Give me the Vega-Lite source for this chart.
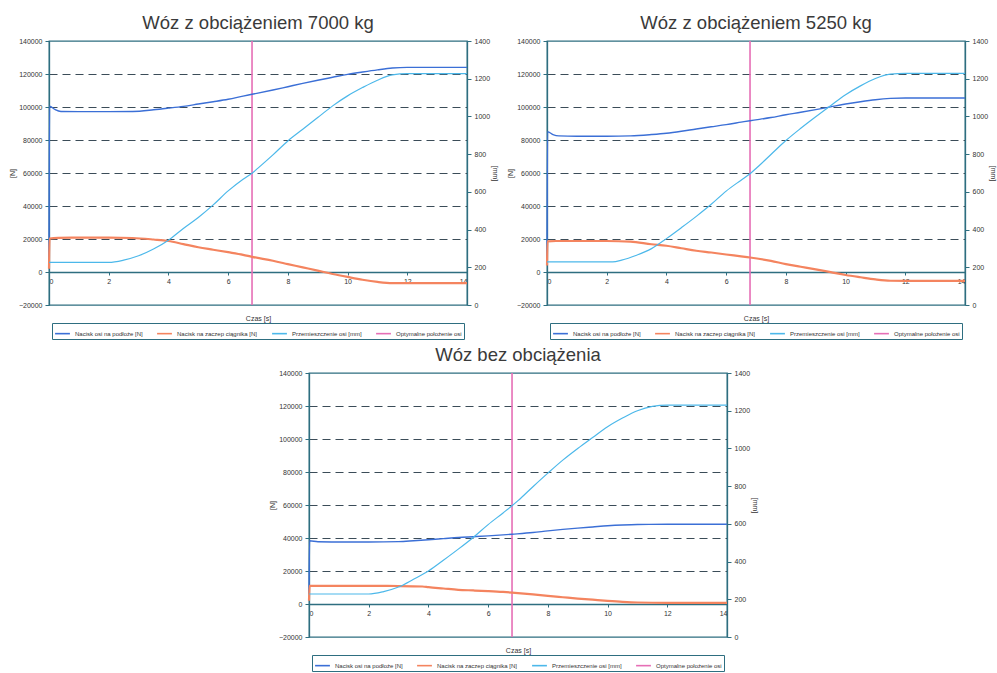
{
  "$schema": "https://vega.github.io/schema/vega-lite/v6.json",
  "padding": {"left": 7, "top": 12, "right": 2, "bottom": 0},
  "background": "white",
  "datasets": {
    "d": [
      {"p": "7000", "s": "Nacisk osi na podłoże [N]", "t": 0, "v": 6000},
      {"p": "7000", "s": "Nacisk osi na podłoże [N]", "t": 0.02, "v": 100500},
      {"p": "7000", "s": "Nacisk osi na podłoże [N]", "t": 0.2, "v": 98500},
      {"p": "7000", "s": "Nacisk osi na podłoże [N]", "t": 0.4, "v": 97300},
      {"p": "7000", "s": "Nacisk osi na podłoże [N]", "t": 1, "v": 97200},
      {"p": "7000", "s": "Nacisk osi na podłoże [N]", "t": 2, "v": 97200},
      {"p": "7000", "s": "Nacisk osi na podłoże [N]", "t": 2.8, "v": 97300},
      {"p": "7000", "s": "Nacisk osi na podłoże [N]", "t": 3.5, "v": 98300},
      {"p": "7000", "s": "Nacisk osi na podłoże [N]", "t": 4, "v": 99300},
      {"p": "7000", "s": "Nacisk osi na podłoże [N]", "t": 4.5, "v": 100400},
      {"p": "7000", "s": "Nacisk osi na podłoże [N]", "t": 5, "v": 101800},
      {"p": "7000", "s": "Nacisk osi na podłoże [N]", "t": 5.5, "v": 103200},
      {"p": "7000", "s": "Nacisk osi na podłoże [N]", "t": 6, "v": 104700},
      {"p": "7000", "s": "Nacisk osi na podłoże [N]", "t": 6.5, "v": 106600},
      {"p": "7000", "s": "Nacisk osi na podłoże [N]", "t": 6.8, "v": 107700},
      {"p": "7000", "s": "Nacisk osi na podłoże [N]", "t": 7.5, "v": 110300},
      {"p": "7000", "s": "Nacisk osi na podłoże [N]", "t": 8, "v": 112300},
      {"p": "7000", "s": "Nacisk osi na podłoże [N]", "t": 8.5, "v": 114300},
      {"p": "7000", "s": "Nacisk osi na podłoże [N]", "t": 9, "v": 116200},
      {"p": "7000", "s": "Nacisk osi na podłoże [N]", "t": 9.5, "v": 118000},
      {"p": "7000", "s": "Nacisk osi na podłoże [N]", "t": 10, "v": 119800},
      {"p": "7000", "s": "Nacisk osi na podłoże [N]", "t": 10.5, "v": 121200},
      {"p": "7000", "s": "Nacisk osi na podłoże [N]", "t": 11, "v": 122500},
      {"p": "7000", "s": "Nacisk osi na podłoże [N]", "t": 11.5, "v": 123600},
      {"p": "7000", "s": "Nacisk osi na podłoże [N]", "t": 12, "v": 124000},
      {"p": "7000", "s": "Nacisk osi na podłoże [N]", "t": 14, "v": 124000},
      {"p": "7000", "s": "Nacisk na zaczep ciągnika [N]", "t": 0, "v": 2000},
      {"p": "7000", "s": "Nacisk na zaczep ciągnika [N]", "t": 0.02, "v": 20300},
      {"p": "7000", "s": "Nacisk na zaczep ciągnika [N]", "t": 0.3, "v": 20700},
      {"p": "7000", "s": "Nacisk na zaczep ciągnika [N]", "t": 1, "v": 20800},
      {"p": "7000", "s": "Nacisk na zaczep ciągnika [N]", "t": 2, "v": 20800},
      {"p": "7000", "s": "Nacisk na zaczep ciągnika [N]", "t": 2.8, "v": 20600},
      {"p": "7000", "s": "Nacisk na zaczep ciągnika [N]", "t": 3.5, "v": 19700},
      {"p": "7000", "s": "Nacisk na zaczep ciągnika [N]", "t": 4, "v": 18800},
      {"p": "7000", "s": "Nacisk na zaczep ciągnika [N]", "t": 4.5, "v": 16900},
      {"p": "7000", "s": "Nacisk na zaczep ciągnika [N]", "t": 5, "v": 15000},
      {"p": "7000", "s": "Nacisk na zaczep ciągnika [N]", "t": 5.5, "v": 13500},
      {"p": "7000", "s": "Nacisk na zaczep ciągnika [N]", "t": 6, "v": 12000},
      {"p": "7000", "s": "Nacisk na zaczep ciągnika [N]", "t": 6.5, "v": 10400},
      {"p": "7000", "s": "Nacisk na zaczep ciągnika [N]", "t": 6.8, "v": 9200},
      {"p": "7000", "s": "Nacisk na zaczep ciągnika [N]", "t": 7.5, "v": 6800},
      {"p": "7000", "s": "Nacisk na zaczep ciągnika [N]", "t": 8, "v": 4800},
      {"p": "7000", "s": "Nacisk na zaczep ciągnika [N]", "t": 8.5, "v": 2800},
      {"p": "7000", "s": "Nacisk na zaczep ciągnika [N]", "t": 9, "v": 800},
      {"p": "7000", "s": "Nacisk na zaczep ciągnika [N]", "t": 9.5, "v": -1200},
      {"p": "7000", "s": "Nacisk na zaczep ciągnika [N]", "t": 10, "v": -3000},
      {"p": "7000", "s": "Nacisk na zaczep ciągnika [N]", "t": 10.5, "v": -4700},
      {"p": "7000", "s": "Nacisk na zaczep ciągnika [N]", "t": 11, "v": -6000},
      {"p": "7000", "s": "Nacisk na zaczep ciągnika [N]", "t": 11.5, "v": -6700},
      {"p": "7000", "s": "Nacisk na zaczep ciągnika [N]", "t": 12, "v": -6700},
      {"p": "7000", "s": "Nacisk na zaczep ciągnika [N]", "t": 14, "v": -6700},
      {"p": "7000", "s": "Przemieszczenie osi [mm]", "t": 0, "v": 226},
      {"p": "7000", "s": "Przemieszczenie osi [mm]", "t": 2, "v": 226},
      {"p": "7000", "s": "Przemieszczenie osi [mm]", "t": 2.5, "v": 238},
      {"p": "7000", "s": "Przemieszczenie osi [mm]", "t": 3, "v": 261},
      {"p": "7000", "s": "Przemieszczenie osi [mm]", "t": 3.5, "v": 297},
      {"p": "7000", "s": "Przemieszczenie osi [mm]", "t": 4, "v": 344},
      {"p": "7000", "s": "Przemieszczenie osi [mm]", "t": 4.5, "v": 406},
      {"p": "7000", "s": "Przemieszczenie osi [mm]", "t": 5, "v": 464},
      {"p": "7000", "s": "Przemieszczenie osi [mm]", "t": 5.5, "v": 531},
      {"p": "7000", "s": "Przemieszczenie osi [mm]", "t": 6, "v": 605},
      {"p": "7000", "s": "Przemieszczenie osi [mm]", "t": 6.5, "v": 667},
      {"p": "7000", "s": "Przemieszczenie osi [mm]", "t": 6.8, "v": 699},
      {"p": "7000", "s": "Przemieszczenie osi [mm]", "t": 7, "v": 726},
      {"p": "7000", "s": "Przemieszczenie osi [mm]", "t": 7.5, "v": 796},
      {"p": "7000", "s": "Przemieszczenie osi [mm]", "t": 8, "v": 870},
      {"p": "7000", "s": "Przemieszczenie osi [mm]", "t": 8.5, "v": 932},
      {"p": "7000", "s": "Przemieszczenie osi [mm]", "t": 9, "v": 994},
      {"p": "7000", "s": "Przemieszczenie osi [mm]", "t": 9.5, "v": 1056},
      {"p": "7000", "s": "Przemieszczenie osi [mm]", "t": 10, "v": 1109},
      {"p": "7000", "s": "Przemieszczenie osi [mm]", "t": 10.5, "v": 1153},
      {"p": "7000", "s": "Przemieszczenie osi [mm]", "t": 11, "v": 1192},
      {"p": "7000", "s": "Przemieszczenie osi [mm]", "t": 11.5, "v": 1220},
      {"p": "7000", "s": "Przemieszczenie osi [mm]", "t": 12, "v": 1227},
      {"p": "7000", "s": "Przemieszczenie osi [mm]", "t": 14, "v": 1227},
      {"p": "7000", "s": "Optymalne położenie osi", "t": 6.8},

      {"p": "5250", "s": "Nacisk osi na podłoże [N]", "t": 0, "v": 6000},
      {"p": "5250", "s": "Nacisk osi na podłoże [N]", "t": 0.02, "v": 85000},
      {"p": "5250", "s": "Nacisk osi na podłoże [N]", "t": 0.2, "v": 83300},
      {"p": "5250", "s": "Nacisk osi na podłoże [N]", "t": 0.4, "v": 82500},
      {"p": "5250", "s": "Nacisk osi na podłoże [N]", "t": 1, "v": 82300},
      {"p": "5250", "s": "Nacisk osi na podłoże [N]", "t": 2, "v": 82300},
      {"p": "5250", "s": "Nacisk osi na podłoże [N]", "t": 2.8, "v": 82500},
      {"p": "5250", "s": "Nacisk osi na podłoże [N]", "t": 3.5, "v": 83300},
      {"p": "5250", "s": "Nacisk osi na podłoże [N]", "t": 4, "v": 84100},
      {"p": "5250", "s": "Nacisk osi na podłoże [N]", "t": 4.5, "v": 85300},
      {"p": "5250", "s": "Nacisk osi na podłoże [N]", "t": 5, "v": 86700},
      {"p": "5250", "s": "Nacisk osi na podłoże [N]", "t": 5.5, "v": 88000},
      {"p": "5250", "s": "Nacisk osi na podłoże [N]", "t": 6, "v": 89300},
      {"p": "5250", "s": "Nacisk osi na podłoże [N]", "t": 6.5, "v": 90800},
      {"p": "5250", "s": "Nacisk osi na podłoże [N]", "t": 6.8, "v": 91700},
      {"p": "5250", "s": "Nacisk osi na podłoże [N]", "t": 7.5, "v": 93600},
      {"p": "5250", "s": "Nacisk osi na podłoże [N]", "t": 8, "v": 95300},
      {"p": "5250", "s": "Nacisk osi na podłoże [N]", "t": 8.5, "v": 96800},
      {"p": "5250", "s": "Nacisk osi na podłoże [N]", "t": 9, "v": 98400},
      {"p": "5250", "s": "Nacisk osi na podłoże [N]", "t": 9.5, "v": 100100},
      {"p": "5250", "s": "Nacisk osi na podłoże [N]", "t": 10, "v": 101800},
      {"p": "5250", "s": "Nacisk osi na podłoże [N]", "t": 10.5, "v": 103200},
      {"p": "5250", "s": "Nacisk osi na podłoże [N]", "t": 11, "v": 104400},
      {"p": "5250", "s": "Nacisk osi na podłoże [N]", "t": 11.5, "v": 105200},
      {"p": "5250", "s": "Nacisk osi na podłoże [N]", "t": 12, "v": 105500},
      {"p": "5250", "s": "Nacisk osi na podłoże [N]", "t": 14, "v": 105500},
      {"p": "5250", "s": "Nacisk na zaczep ciągnika [N]", "t": 0, "v": 4000},
      {"p": "5250", "s": "Nacisk na zaczep ciągnika [N]", "t": 0.02, "v": 18600},
      {"p": "5250", "s": "Nacisk na zaczep ciągnika [N]", "t": 0.3, "v": 18800},
      {"p": "5250", "s": "Nacisk na zaczep ciągnika [N]", "t": 1, "v": 18800},
      {"p": "5250", "s": "Nacisk na zaczep ciągnika [N]", "t": 2, "v": 18800},
      {"p": "5250", "s": "Nacisk na zaczep ciągnika [N]", "t": 2.8, "v": 18400},
      {"p": "5250", "s": "Nacisk na zaczep ciągnika [N]", "t": 3.5, "v": 16800},
      {"p": "5250", "s": "Nacisk na zaczep ciągnika [N]", "t": 4, "v": 15900},
      {"p": "5250", "s": "Nacisk na zaczep ciągnika [N]", "t": 4.5, "v": 14400},
      {"p": "5250", "s": "Nacisk na zaczep ciągnika [N]", "t": 5, "v": 12900},
      {"p": "5250", "s": "Nacisk na zaczep ciągnika [N]", "t": 5.5, "v": 11800},
      {"p": "5250", "s": "Nacisk na zaczep ciągnika [N]", "t": 6, "v": 10600},
      {"p": "5250", "s": "Nacisk na zaczep ciągnika [N]", "t": 6.5, "v": 9500},
      {"p": "5250", "s": "Nacisk na zaczep ciągnika [N]", "t": 6.8, "v": 8800},
      {"p": "5250", "s": "Nacisk na zaczep ciągnika [N]", "t": 7.5, "v": 6700},
      {"p": "5250", "s": "Nacisk na zaczep ciągnika [N]", "t": 8, "v": 4800},
      {"p": "5250", "s": "Nacisk na zaczep ciągnika [N]", "t": 8.5, "v": 3200},
      {"p": "5250", "s": "Nacisk na zaczep ciągnika [N]", "t": 9, "v": 1600},
      {"p": "5250", "s": "Nacisk na zaczep ciągnika [N]", "t": 9.5, "v": -100},
      {"p": "5250", "s": "Nacisk na zaczep ciągnika [N]", "t": 10, "v": -1800},
      {"p": "5250", "s": "Nacisk na zaczep ciągnika [N]", "t": 10.5, "v": -3200},
      {"p": "5250", "s": "Nacisk na zaczep ciągnika [N]", "t": 11, "v": -4500},
      {"p": "5250", "s": "Nacisk na zaczep ciągnika [N]", "t": 11.5, "v": -5300},
      {"p": "5250", "s": "Nacisk na zaczep ciągnika [N]", "t": 12, "v": -5400},
      {"p": "5250", "s": "Nacisk na zaczep ciągnika [N]", "t": 14, "v": -5400},
      {"p": "5250", "s": "Przemieszczenie osi [mm]", "t": 0, "v": 229},
      {"p": "5250", "s": "Przemieszczenie osi [mm]", "t": 2.2, "v": 229},
      {"p": "5250", "s": "Przemieszczenie osi [mm]", "t": 2.5, "v": 238},
      {"p": "5250", "s": "Przemieszczenie osi [mm]", "t": 3, "v": 264},
      {"p": "5250", "s": "Przemieszczenie osi [mm]", "t": 3.5, "v": 299},
      {"p": "5250", "s": "Przemieszczenie osi [mm]", "t": 4, "v": 352},
      {"p": "5250", "s": "Przemieszczenie osi [mm]", "t": 4.5, "v": 410},
      {"p": "5250", "s": "Przemieszczenie osi [mm]", "t": 5, "v": 470},
      {"p": "5250", "s": "Przemieszczenie osi [mm]", "t": 5.5, "v": 534},
      {"p": "5250", "s": "Przemieszczenie osi [mm]", "t": 6, "v": 604},
      {"p": "5250", "s": "Przemieszczenie osi [mm]", "t": 6.5, "v": 662},
      {"p": "5250", "s": "Przemieszczenie osi [mm]", "t": 6.8, "v": 696},
      {"p": "5250", "s": "Przemieszczenie osi [mm]", "t": 7, "v": 724},
      {"p": "5250", "s": "Przemieszczenie osi [mm]", "t": 7.5, "v": 798},
      {"p": "5250", "s": "Przemieszczenie osi [mm]", "t": 8, "v": 872},
      {"p": "5250", "s": "Przemieszczenie osi [mm]", "t": 8.5, "v": 937},
      {"p": "5250", "s": "Przemieszczenie osi [mm]", "t": 9, "v": 998},
      {"p": "5250", "s": "Przemieszczenie osi [mm]", "t": 9.5, "v": 1057},
      {"p": "5250", "s": "Przemieszczenie osi [mm]", "t": 10, "v": 1115},
      {"p": "5250", "s": "Przemieszczenie osi [mm]", "t": 10.5, "v": 1162},
      {"p": "5250", "s": "Przemieszczenie osi [mm]", "t": 11, "v": 1201},
      {"p": "5250", "s": "Przemieszczenie osi [mm]", "t": 11.5, "v": 1224},
      {"p": "5250", "s": "Przemieszczenie osi [mm]", "t": 12, "v": 1228},
      {"p": "5250", "s": "Przemieszczenie osi [mm]", "t": 14, "v": 1228},
      {"p": "5250", "s": "Optymalne położenie osi", "t": 6.8},

      {"p": "0", "s": "Nacisk osi na podłoże [N]", "t": 0, "v": 6000},
      {"p": "0", "s": "Nacisk osi na podłoże [N]", "t": 0.02, "v": 38300},
      {"p": "0", "s": "Nacisk osi na podłoże [N]", "t": 0.3, "v": 37700},
      {"p": "0", "s": "Nacisk osi na podłoże [N]", "t": 1, "v": 37600},
      {"p": "0", "s": "Nacisk osi na podłoże [N]", "t": 2, "v": 37600},
      {"p": "0", "s": "Nacisk osi na podłoże [N]", "t": 3, "v": 37800},
      {"p": "0", "s": "Nacisk osi na podłoże [N]", "t": 3.5, "v": 38300},
      {"p": "0", "s": "Nacisk osi na podłoże [N]", "t": 4, "v": 38900},
      {"p": "0", "s": "Nacisk osi na podłoże [N]", "t": 4.5, "v": 39600},
      {"p": "0", "s": "Nacisk osi na podłoże [N]", "t": 5, "v": 40300},
      {"p": "0", "s": "Nacisk osi na podłoże [N]", "t": 5.5, "v": 40800},
      {"p": "0", "s": "Nacisk osi na podłoże [N]", "t": 6, "v": 41300},
      {"p": "0", "s": "Nacisk osi na podłoże [N]", "t": 6.5, "v": 41900},
      {"p": "0", "s": "Nacisk osi na podłoże [N]", "t": 6.8, "v": 42300},
      {"p": "0", "s": "Nacisk osi na podłoże [N]", "t": 7.5, "v": 43300},
      {"p": "0", "s": "Nacisk osi na podłoże [N]", "t": 8, "v": 44300},
      {"p": "0", "s": "Nacisk osi na podłoże [N]", "t": 8.5, "v": 45200},
      {"p": "0", "s": "Nacisk osi na podłoże [N]", "t": 9, "v": 46000},
      {"p": "0", "s": "Nacisk osi na podłoże [N]", "t": 9.5, "v": 46700},
      {"p": "0", "s": "Nacisk osi na podłoże [N]", "t": 10, "v": 47400},
      {"p": "0", "s": "Nacisk osi na podłoże [N]", "t": 10.5, "v": 47900},
      {"p": "0", "s": "Nacisk osi na podłoże [N]", "t": 11, "v": 48200},
      {"p": "0", "s": "Nacisk osi na podłoże [N]", "t": 12, "v": 48300},
      {"p": "0", "s": "Nacisk osi na podłoże [N]", "t": 14, "v": 48300},
      {"p": "0", "s": "Nacisk na zaczep ciągnika [N]", "t": 0, "v": 2000},
      {"p": "0", "s": "Nacisk na zaczep ciągnika [N]", "t": 0.02, "v": 11000},
      {"p": "0", "s": "Nacisk na zaczep ciągnika [N]", "t": 0.3, "v": 11000},
      {"p": "0", "s": "Nacisk na zaczep ciągnika [N]", "t": 1, "v": 11000},
      {"p": "0", "s": "Nacisk na zaczep ciągnika [N]", "t": 2, "v": 11000},
      {"p": "0", "s": "Nacisk na zaczep ciągnika [N]", "t": 3, "v": 10900},
      {"p": "0", "s": "Nacisk na zaczep ciągnika [N]", "t": 3.8, "v": 10600},
      {"p": "0", "s": "Nacisk na zaczep ciągnika [N]", "t": 4, "v": 10200},
      {"p": "0", "s": "Nacisk na zaczep ciągnika [N]", "t": 4.5, "v": 9400},
      {"p": "0", "s": "Nacisk na zaczep ciągnika [N]", "t": 5, "v": 8600},
      {"p": "0", "s": "Nacisk na zaczep ciągnika [N]", "t": 5.5, "v": 8200},
      {"p": "0", "s": "Nacisk na zaczep ciągnika [N]", "t": 6, "v": 7800},
      {"p": "0", "s": "Nacisk na zaczep ciągnika [N]", "t": 6.5, "v": 7300},
      {"p": "0", "s": "Nacisk na zaczep ciągnika [N]", "t": 6.8, "v": 6900},
      {"p": "0", "s": "Nacisk na zaczep ciągnika [N]", "t": 7.5, "v": 5800},
      {"p": "0", "s": "Nacisk na zaczep ciągnika [N]", "t": 8, "v": 4900},
      {"p": "0", "s": "Nacisk na zaczep ciągnika [N]", "t": 8.5, "v": 4100},
      {"p": "0", "s": "Nacisk na zaczep ciągnika [N]", "t": 9, "v": 3300},
      {"p": "0", "s": "Nacisk na zaczep ciągnika [N]", "t": 9.5, "v": 2600},
      {"p": "0", "s": "Nacisk na zaczep ciągnika [N]", "t": 10, "v": 1900},
      {"p": "0", "s": "Nacisk na zaczep ciągnika [N]", "t": 10.5, "v": 1300},
      {"p": "0", "s": "Nacisk na zaczep ciągnika [N]", "t": 11, "v": 900},
      {"p": "0", "s": "Nacisk na zaczep ciągnika [N]", "t": 12, "v": 700},
      {"p": "0", "s": "Nacisk na zaczep ciągnika [N]", "t": 14, "v": 700},
      {"p": "0", "s": "Przemieszczenie osi [mm]", "t": 0, "v": 228},
      {"p": "0", "s": "Przemieszczenie osi [mm]", "t": 2, "v": 228},
      {"p": "0", "s": "Przemieszczenie osi [mm]", "t": 2.5, "v": 241},
      {"p": "0", "s": "Przemieszczenie osi [mm]", "t": 3, "v": 265},
      {"p": "0", "s": "Przemieszczenie osi [mm]", "t": 3.5, "v": 306},
      {"p": "0", "s": "Przemieszczenie osi [mm]", "t": 4, "v": 350},
      {"p": "0", "s": "Przemieszczenie osi [mm]", "t": 4.5, "v": 407},
      {"p": "0", "s": "Przemieszczenie osi [mm]", "t": 5, "v": 466},
      {"p": "0", "s": "Przemieszczenie osi [mm]", "t": 5.5, "v": 528},
      {"p": "0", "s": "Przemieszczenie osi [mm]", "t": 6, "v": 596},
      {"p": "0", "s": "Przemieszczenie osi [mm]", "t": 6.5, "v": 658},
      {"p": "0", "s": "Przemieszczenie osi [mm]", "t": 6.8, "v": 696},
      {"p": "0", "s": "Przemieszczenie osi [mm]", "t": 7, "v": 723},
      {"p": "0", "s": "Przemieszczenie osi [mm]", "t": 7.5, "v": 797},
      {"p": "0", "s": "Przemieszczenie osi [mm]", "t": 8, "v": 869},
      {"p": "0", "s": "Przemieszczenie osi [mm]", "t": 8.5, "v": 938},
      {"p": "0", "s": "Przemieszczenie osi [mm]", "t": 9, "v": 1000},
      {"p": "0", "s": "Przemieszczenie osi [mm]", "t": 9.5, "v": 1058},
      {"p": "0", "s": "Przemieszczenie osi [mm]", "t": 10, "v": 1115},
      {"p": "0", "s": "Przemieszczenie osi [mm]", "t": 10.5, "v": 1161},
      {"p": "0", "s": "Przemieszczenie osi [mm]", "t": 11, "v": 1200},
      {"p": "0", "s": "Przemieszczenie osi [mm]", "t": 11.5, "v": 1223},
      {"p": "0", "s": "Przemieszczenie osi [mm]", "t": 12, "v": 1230},
      {"p": "0", "s": "Przemieszczenie osi [mm]", "t": 14, "v": 1230},
      {"p": "0", "s": "Optymalne położenie osi", "t": 6.8}
    ]
  },
  "vconcat": [
    {
      "hconcat": [
        {
          "title": "Wóz z obciążeniem 7000 kg",
          "width": 418, "height": 264,
          "data": {"name": "d"},
          "layer": [
            {
              "transform": [{"filter": "datum.p == '7000' && datum.s == 'Optymalne położenie osi'"}],
              "mark": {"type": "rule", "strokeWidth": 1.6},
              "encoding": {
                "x": {"field": "t", "type": "quantitative", "scale": {"domain": [0, 14], "nice": false}, "axis": {"values": [0, 2, 4, 6, 8, 10, 12, 14], "tickCount": 20, "format": "d", "title": "Czas [s]", "offset": -33, "titlePadding": 30, "grid": false, "tickSize": 3, "labelPadding": 2, "labelOverlap": false}},
                "color": {"field": "s", "type": "nominal", "scale": {"domain": ["Nacisk osi na podłoże [N]", "Nacisk na zaczep ciągnika [N]", "Przemieszczenie osi [mm]", "Optymalne położenie osi"], "range": ["#3b6fd6", "#f4845f", "#4cb8ea", "#e66fb6"]}, "legend": {"title": null}}
              }
            },
            {
              "layer": [
                {
                  "transform": [{"filter": "datum.p == '7000' && datum.s == 'Nacisk osi na podłoże [N]'"}],
                  "mark": {"type": "line", "strokeWidth": 1.4, "interpolate": "monotone"},
                  "encoding": {
                    "x": {"field": "t", "type": "quantitative"},
                    "y": {"field": "v", "type": "quantitative", "scale": {"domain": [-20000, 140000], "nice": false}, "axis": {"orient": "left", "values": [-20000, 0, 20000, 40000, 60000, 80000, 100000, 120000, 140000], "tickCount": 20, "format": "d", "title": "[N]", "labelOverlap": false}},
                    "color": {"field": "s", "type": "nominal"}
                  }
                },
                {
                  "transform": [{"filter": "datum.p == '7000' && datum.s == 'Nacisk na zaczep ciągnika [N]'"}],
                  "mark": {"type": "line", "strokeWidth": 2.2, "interpolate": "monotone"},
                  "encoding": {
                    "x": {"field": "t", "type": "quantitative"},
                    "y": {"field": "v", "type": "quantitative"},
                    "color": {"field": "s", "type": "nominal"}
                  }
                }
              ]
            },
            {
              "transform": [{"filter": "datum.p == '7000' && datum.s == 'Przemieszczenie osi [mm]'"}],
              "mark": {"type": "line", "strokeWidth": 1.2, "interpolate": "monotone"},
              "encoding": {
                "x": {"field": "t", "type": "quantitative"},
                "y": {"field": "v", "type": "quantitative", "scale": {"domain": [0, 1400], "nice": false}, "axis": {"orient": "right", "values": [0, 200, 400, 600, 800, 1000, 1200, 1400], "tickCount": 20, "format": "d", "title": "[mm]", "grid": false, "titlePadding": 2, "labelOverlap": false}},
                "color": {"field": "s", "type": "nominal"}
              }
            }
          ],
          "resolve": {"scale": {"y": "independent"}}
        },
        {
          "title": "Wóz z obciążeniem 5250 kg",
          "width": 418, "height": 264,
          "data": {"name": "d"},
          "layer": [
            {
              "transform": [{"filter": "datum.p == '5250' && datum.s == 'Optymalne położenie osi'"}],
              "mark": {"type": "rule", "strokeWidth": 1.6},
              "encoding": {
                "x": {"field": "t", "type": "quantitative", "scale": {"domain": [0, 14], "nice": false}, "axis": {"values": [0, 2, 4, 6, 8, 10, 12, 14], "tickCount": 20, "format": "d", "title": "Czas [s]", "offset": -33, "titlePadding": 30, "grid": false, "tickSize": 3, "labelPadding": 2, "labelOverlap": false}},
                "color": {"field": "s", "type": "nominal", "scale": {"domain": ["Nacisk osi na podłoże [N]", "Nacisk na zaczep ciągnika [N]", "Przemieszczenie osi [mm]", "Optymalne położenie osi"], "range": ["#3b6fd6", "#f4845f", "#4cb8ea", "#e66fb6"]}, "legend": {"title": null}}
              }
            },
            {
              "layer": [
                {
                  "transform": [{"filter": "datum.p == '5250' && datum.s == 'Nacisk osi na podłoże [N]'"}],
                  "mark": {"type": "line", "strokeWidth": 1.4, "interpolate": "monotone"},
                  "encoding": {
                    "x": {"field": "t", "type": "quantitative"},
                    "y": {"field": "v", "type": "quantitative", "scale": {"domain": [-20000, 140000], "nice": false}, "axis": {"orient": "left", "values": [-20000, 0, 20000, 40000, 60000, 80000, 100000, 120000, 140000], "tickCount": 20, "format": "d", "title": "[N]", "labelOverlap": false}},
                    "color": {"field": "s", "type": "nominal"}
                  }
                },
                {
                  "transform": [{"filter": "datum.p == '5250' && datum.s == 'Nacisk na zaczep ciągnika [N]'"}],
                  "mark": {"type": "line", "strokeWidth": 2.2, "interpolate": "monotone"},
                  "encoding": {
                    "x": {"field": "t", "type": "quantitative"},
                    "y": {"field": "v", "type": "quantitative"},
                    "color": {"field": "s", "type": "nominal"}
                  }
                }
              ]
            },
            {
              "transform": [{"filter": "datum.p == '5250' && datum.s == 'Przemieszczenie osi [mm]'"}],
              "mark": {"type": "line", "strokeWidth": 1.2, "interpolate": "monotone"},
              "encoding": {
                "x": {"field": "t", "type": "quantitative"},
                "y": {"field": "v", "type": "quantitative", "scale": {"domain": [0, 1400], "nice": false}, "axis": {"orient": "right", "values": [0, 200, 400, 600, 800, 1000, 1200, 1400], "tickCount": 20, "format": "d", "title": "[mm]", "grid": false, "titlePadding": 2, "labelOverlap": false}},
                "color": {"field": "s", "type": "nominal"}
              }
            }
          ],
          "resolve": {"scale": {"y": "independent"}}
        }
      ],
      "spacing": 5,
      "resolve": {"scale": {"color": "independent"}, "legend": {"color": "independent"}}
    },
    {
      "hconcat": [
        {
          "width": 208, "height": 10,
          "data": {"values": [{}]},
          "mark": {"type": "text", "text": ""},
          "encoding": {},
          "view": {"stroke": null}
        },
        {
          "title": "Wóz bez obciążenia",
          "width": 418, "height": 264,
          "data": {"name": "d"},
          "layer": [
            {
              "transform": [{"filter": "datum.p == '0' && datum.s == 'Optymalne położenie osi'"}],
              "mark": {"type": "rule", "strokeWidth": 1.6},
              "encoding": {
                "x": {"field": "t", "type": "quantitative", "scale": {"domain": [0, 14], "nice": false}, "axis": {"values": [0, 2, 4, 6, 8, 10, 12, 14], "tickCount": 20, "format": "d", "title": "Czas [s]", "offset": -33, "titlePadding": 30, "grid": false, "tickSize": 3, "labelPadding": 2, "labelOverlap": false}},
                "color": {"field": "s", "type": "nominal", "scale": {"domain": ["Nacisk osi na podłoże [N]", "Nacisk na zaczep ciągnika [N]", "Przemieszczenie osi [mm]", "Optymalne położenie osi"], "range": ["#3b6fd6", "#f4845f", "#4cb8ea", "#e66fb6"]}, "legend": {"title": null}}
              }
            },
            {
              "layer": [
                {
                  "transform": [{"filter": "datum.p == '0' && datum.s == 'Nacisk osi na podłoże [N]'"}],
                  "mark": {"type": "line", "strokeWidth": 1.4, "interpolate": "monotone"},
                  "encoding": {
                    "x": {"field": "t", "type": "quantitative"},
                    "y": {"field": "v", "type": "quantitative", "scale": {"domain": [-20000, 140000], "nice": false}, "axis": {"orient": "left", "values": [-20000, 0, 20000, 40000, 60000, 80000, 100000, 120000, 140000], "tickCount": 20, "format": "d", "title": "[N]", "labelOverlap": false}},
                    "color": {"field": "s", "type": "nominal"}
                  }
                },
                {
                  "transform": [{"filter": "datum.p == '0' && datum.s == 'Nacisk na zaczep ciągnika [N]'"}],
                  "mark": {"type": "line", "strokeWidth": 2.2, "interpolate": "monotone"},
                  "encoding": {
                    "x": {"field": "t", "type": "quantitative"},
                    "y": {"field": "v", "type": "quantitative"},
                    "color": {"field": "s", "type": "nominal"}
                  }
                }
              ]
            },
            {
              "transform": [{"filter": "datum.p == '0' && datum.s == 'Przemieszczenie osi [mm]'"}],
              "mark": {"type": "line", "strokeWidth": 1.2, "interpolate": "monotone"},
              "encoding": {
                "x": {"field": "t", "type": "quantitative"},
                "y": {"field": "v", "type": "quantitative", "scale": {"domain": [0, 1400], "nice": false}, "axis": {"orient": "right", "values": [0, 200, 400, 600, 800, 1000, 1200, 1400], "tickCount": 20, "format": "d", "title": "[mm]", "grid": false, "titlePadding": 2, "labelOverlap": false}},
                "color": {"field": "s", "type": "nominal"}
              }
            }
          ],
          "resolve": {"scale": {"y": "independent"}}
        }
      ],
      "spacing": 10,
      "resolve": {"scale": {"color": "independent"}, "legend": {"color": "independent"}}
    }
  ],
  "spacing": 3,
  "resolve": {"scale": {"color": "independent"}, "legend": {"color": "independent"}},
  "config": {
    "font": "Liberation Sans",
    "view": {"stroke": "#2e6e80", "strokeWidth": 1.3},
    "axis": {
      "labelFontSize": 7,
      "labelColor": "#333333",
      "domainColor": "#2e6e80",
      "domainWidth": 1.3,
      "tickColor": "#2e6e80",
      "tickSize": 4,
      "titleFontSize": 7,
      "titleFontWeight": "normal",
      "titleColor": "#333333"
    },
    "axisY": {
      "gridColor": "#3b4c58",
      "gridDash": [8, 5],
      "gridWidth": 1.2,
      "gridOpacity": {"condition": {"test": "datum.value <= 0 || datum.value >= 140000", "value": 0}, "value": 1},
      "labelPadding": 3,
      "titlePadding": 3
    },
    "axisX": {"grid": false},
    "title": {"fontSize": 18.5, "fontWeight": "normal", "color": "#3a3a3a", "offset": 5},
    "legend": {
      "orient": "bottom",
      "direction": "horizontal",
      "strokeColor": "#2e6e80",
      "padding": 2,
      "offset": 2,
      "labelFontSize": 6,
      "labelColor": "#333333",
      "labelLimit": 300,
      "symbolType": "stroke",
      "symbolSize": 220,
      "symbolStrokeWidth": 1.6,
      "columnPadding": 10,
      "layout": {"bottom": {"anchor": "middle"}}
    }
  }
}
